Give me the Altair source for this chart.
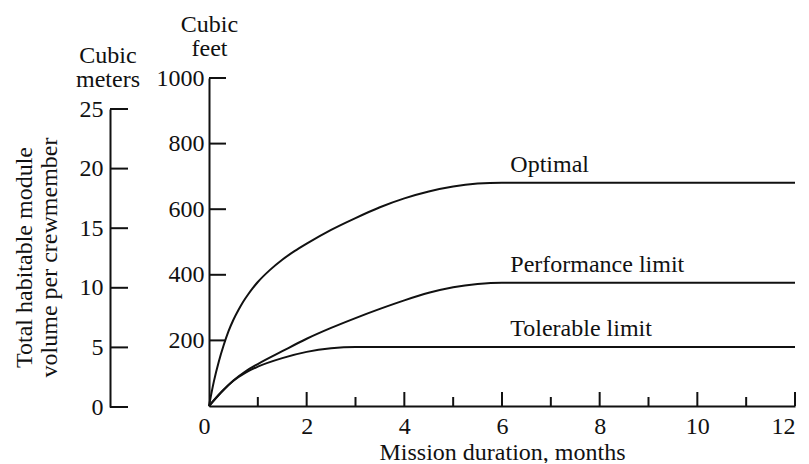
import altair as alt
import pandas as pd

# ---- data ----
opt_months = [0, 0.1, 0.2, 0.3, 0.4, 0.5, 0.6, 0.7, 0.8, 0.9, 1.0, 1.25, 1.5, 1.75, 2.0,
              2.5, 3.0, 3.5, 4.0, 4.5, 5.0, 5.5, 6.0, 12]
opt_ft = [0, 75, 135, 185, 228, 263, 292, 318, 340, 360, 378, 415, 446, 472, 495,
          537, 573, 606, 633, 654, 669, 678, 681, 681]

perf_months = [0, 0.25, 0.5, 0.75, 1.0, 1.5, 2.0, 2.5, 3.0, 3.5, 4.0, 4.5, 5.0, 5.5, 6.0, 12]
perf_ft = [0, 42, 78, 106, 128, 167, 205, 238, 268, 296, 322, 345, 362, 372, 376, 376]

tol_months = [0, 0.25, 0.5, 0.75, 1.0, 1.5, 2.0, 2.5, 3.0, 12]
tol_ft = [0, 42, 77, 102, 120, 146, 165, 176, 180, 180]

label_names = ["Optimal", "Performance limit", "Tolerable limit"]
label_months = [6.17, 6.17, 6.17]
label_ft = [714, 409, 214]

x_major = [2, 4, 6, 8, 10, 12]
x_minor = [1, 3, 5, 7, 9, 11]
x_labels = [0, 2, 4, 6, 8, 10, 12]
ft_ticks = [200, 400, 600, 800, 1000]
m_ticks = [0, 5, 10, 15, 20, 25]

FONT = "Liberation Serif"
FS = 24
W, H = 586, 328
INK = "#111111"

rows = []
for name, ms, vs in [("Optimal", opt_months, opt_ft),
                     ("Performance limit", perf_months, perf_ft),
                     ("Tolerable limit", tol_months, tol_ft)]:
    for m, v in zip(ms, vs):
        rows.append({"series": name, "month": m, "ft": v})
curves_df = pd.DataFrame(rows)
labels_df = pd.DataFrame({"label": label_names, "month": label_months, "ft": label_ft})
xmaj_df = pd.DataFrame({"month": x_major})
xmin_df = pd.DataFrame({"month": x_minor})
ft_df = pd.DataFrame({"ft": ft_ticks})
m_df = pd.DataFrame({"m": m_ticks})
one_df = pd.DataFrame({"t": ["Cubic\nmeters"]})

x_scale = alt.Scale(domain=[0, 12], nice=False, zero=False)
x_axis = alt.Axis(
    values=x_labels, ticks=False, grid=False, format="d",
    domainColor=INK, domainWidth=2,
    labelFont=FONT, labelFontSize=FS, labelColor=INK, labelPadding=8,
    labelOffset={"condition": {"test": "datum.value === 0", "value": -11}, "value": 0},
    title="Mission duration, months", titleFont=FONT, titleFontSize=FS,
    titleFontWeight="normal", titleColor=INK, titlePadding=2,
)
xenc = alt.X("month:Q", scale=x_scale, axis=x_axis)

ft_scale = alt.Scale(domain=[0, 1000], nice=False)
ft_axis = alt.Axis(
    values=ft_ticks, ticks=False, grid=False, format="d",
    domainColor=INK, domainWidth=2,
    labelFont=FONT, labelFontSize=FS, labelColor=INK, labelPadding=5,
    title=["Cubic", "feet"], titleFont=FONT, titleFontSize=FS,
    titleFontWeight="normal", titleColor=INK, titleAngle=0,
    titleX=0, titleY=-47, titleAlign="center", titleBaseline="alphabetic",
    titleLineHeight=24,
)
ft_enc_field = "ft:Q"

m_scale = alt.Scale(domain=[0, 25], range=[329, 31], nice=False)
m_axis = alt.Axis(
    values=m_ticks, ticks=False, grid=False, orient="left", offset=99, format="d",
    domainColor=INK, domainWidth=2,
    labelFont=FONT, labelFontSize=FS, labelColor=INK, labelPadding=7,
    title=["Total habitable module", "volume per crewmember"],
    titleFont=FONT, titleFontSize=FS, titleFontWeight="normal", titleColor=INK,
    titleAngle=270, titleX=-86, titleY=179, titleAlign="center",
    titleBaseline="middle", titleLineHeight=25,
)

curves = alt.Chart(curves_df).mark_line(
    interpolate="monotone", color=INK, strokeWidth=2
).encode(
    x=xenc,
    y=alt.Y(ft_enc_field, scale=ft_scale, axis=ft_axis),
    detail="series:N",
)

ft_tick_marks = alt.Chart(ft_df).mark_rule(color=INK, strokeWidth=2).encode(
    y=alt.Y(ft_enc_field, scale=ft_scale, axis=ft_axis),
    x=alt.value(0), x2=alt.value(17),
)

xmaj_marks = alt.Chart(xmaj_df).mark_rule(color=INK, strokeWidth=2).encode(
    x=xenc, y=alt.value(H), y2=alt.value(H - 14),
)
xmin_marks = alt.Chart(xmin_df).mark_rule(color=INK, strokeWidth=2).encode(
    x=xenc, y=alt.value(H), y2=alt.value(H - 9),
)

curve_labels = alt.Chart(labels_df).mark_text(
    align="left", baseline="alphabetic", font=FONT, fontSize=FS, color=INK
).encode(
    x=xenc,
    y=alt.Y(ft_enc_field, scale=ft_scale, axis=ft_axis),
    text="label:N",
)

meters_head = alt.Chart(one_df).mark_text(
    align="center", baseline="alphabetic", font=FONT, fontSize=FS, color=INK,
    lineBreak="\n", lineHeight=24,
).encode(x=alt.value(-101), y=alt.value(-15), text="t:N")

ft_layer = alt.layer(curves, ft_tick_marks, xmaj_marks, xmin_marks, curve_labels, meters_head)

m_tick_marks = alt.Chart(m_df).mark_rule(color=INK, strokeWidth=2).encode(
    y=alt.Y("m:Q", scale=m_scale, axis=m_axis),
    x=alt.value(-99), x2=alt.value(-81),
)

chart = alt.layer(ft_layer, m_tick_marks).resolve_scale(y="independent").properties(
    width=W, height=H,
    autosize=alt.AutoSizeParams(type="none"),
    padding={"left": 201, "top": 70, "right": 6, "bottom": 57},
).configure_view(stroke=None).configure_axis(grid=False)

chart.save("out.html", embed_options={"renderer": "svg", "actions": False})
